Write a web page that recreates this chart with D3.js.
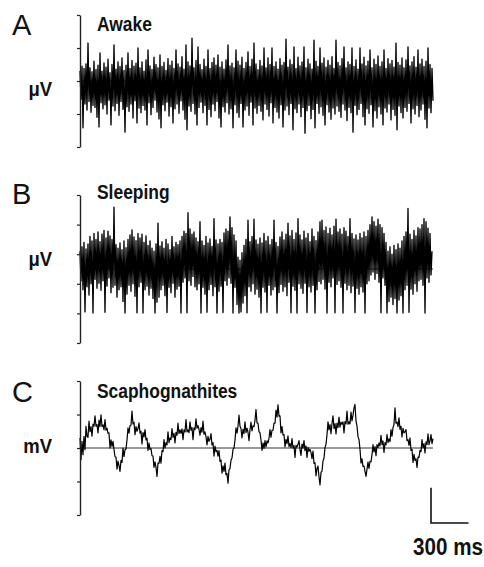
<!DOCTYPE html>
<html>
<head>
<meta charset="utf-8">
<script src="https://cdn.jsdelivr.net/npm/d3@7"></script>
<style>
  body { margin: 0; background: #fff; }
  svg { display: block; }
</style>
</head>
<body>
<div class="chart-container"></div>
<script>
// panel names, unit labels and the recorded traces (arbitrary units, zero = baseline)
const panelLetters = ["A", "B", "C"];
const panelTitles = ["Awake", "Sleeping", "Scaphognathites"];
const unitLabels = ["\u03bcV", "\u03bcV", "mV"];
const sampleMs = 8;
const scaleBarMs = 300;
const scaleBarAmp = 105;

const awake = [
  30,-55,45,-142,38,-70,52,-88,115,-62,40,-95,28,-74,60,-80,35,-110,48,-139,
  85,-66,30,-84,55,-72,42,-100,66,-58,25,-133,50,-76,109,-90,36,-68,58,-104,
  44,-62,70,-86,32,-155,48,-78,85,-92,38,-70,62,-112,45,-60,54,-127,100,-82,
  40,-96,58,-74,30,-88,64,-133,94,-66,46,-102,35,-80,72,-58,50,-94,40,-115,
  79,-142,44,-72,56,-90,32,-64,68,-106,48,-78,60,-127,38,-84,94,-70,52,-98,
  42,-60,74,-88,36,-116,109,-148,58,-76,46,-92,130,-68,40,-100,62,-133,103,-80,
  50,-64,34,-96,66,-74,44,-133,94,-86,38,-108,56,-70,70,-90,48,-62,79,-112,
  42,-139,58,-78,36,-94,64,-66,109,-100,46,-84,54,-142,40,-72,94,-96,60,-110,
  48,-68,72,-139,38,-88,56,-76,88,-104,44,-64,66,-133,115,-82,52,-98,34,-74,
  62,-92,46,-118,100,-70,40,-86,70,-106,50,-66,100,-127,44,-80,58,-94,36,-112,
  68,-72,48,-139,56,-88,127,-76,42,-102,64,-68,50,-148,103,-84,38,-96,72,-70,
  46,-108,58,-80,103,-158,40,-90,66,-74,52,-114,36,-86,124,-142,60,-68,44,-98,
  100,-78,54,-104,70,-133,42,-72,62,-94,48,-116,74,-82,38,-100,124,-76,56,-92,
  46,-110,68,-70,103,-88,40,-120,58,-80,50,-96,100,-155,44,-74,64,-102,36,-86,
  100,-68,52,-108,72,-133,46,-84,60,-98,94,-72,40,-139,66,-90,50,-112,76,-78,
  44,-100,58,-133,94,-82,38,-94,68,-70,52,-118,62,-86,42,-104,115,-148,56,-76,
  48,-96,70,-112,40,-80,64,-92,103,-68,46,-127,58,-84,74,-100,42,-74,94,-108,
  52,-88,66,-70,44,-116,60,-142,100,-82,50,-96,38,-60
];

const sleeping = [
  60,-40,75,-70,90,-145,68,-60,85,-88,110,-50,95,-149,120,-35,100,-65,125,-48,
  92,-72,118,-40,130,-146,105,-58,128,-30,112,-80,100,-62,209,-55,82,-95,70,-70,
  88,-60,65,-110,95,-149,72,-85,100,-55,115,-75,132,-50,108,-92,96,-148,120,-60,
  105,-45,118,-149,90,-70,112,-58,80,-88,95,-65,70,-100,60,-149,85,-112,155,-95,
  78,-70,92,-55,70,-90,100,-147,85,-62,65,-80,110,-48,75,-95,90,-68,82,-58,
  95,-149,110,-45,128,-30,120,-148,190,-40,135,-55,118,-25,125,-60,105,-70,92,-50,
  160,-149,95,-62,80,-85,110,-146,88,-70,102,-52,76,-90,170,-60,98,-149,85,-75,
  100,-58,90,-147,122,-40,135,-55,128,-30,176,-48,140,-149,115,-62,95,-120,40,-149,
  30,-145,55,-115,80,-90,100,-148,165,-60,92,-75,110,-50,168,-85,98,-68,84,-95,
  105,-149,88,-62,120,-78,95,-146,110,-55,82,-88,100,-70,165,-60,90,-149,76,-80,
  108,-52,125,-75,98,-60,118,-90,155,-45,112,-148,130,-58,100,-72,122,-149,170,-50,
  115,-65,98,-82,128,-48,105,-147,120,-60,92,-78,135,-55,110,-149,96,-70,125,-42,
  160,-50,165,-35,130,-68,142,-149,120,-45,138,-60,115,-30,145,-148,168,-52,125,-40,
  135,-62,118,-149,140,-48,128,-70,110,-55,170,-80,120,-58,102,-147,115,-65,98,-85,
  120,-60,105,-78,125,-149,110,-50,130,-40,150,-20,176,-10,160,-35,145,-15,168,-45,
  150,-148,140,-30,120,-55,90,-149,60,-110,75,-95,50,-120,80,-100,65,-149,85,-105,
  70,-90,95,-149,110,-70,125,-55,205,-146,118,-68,100,-85,130,-50,112,-75,140,-40,
  135,-35,150,-55,170,-149,160,-30,138,-45,120,-20,60
];

const scaphognathites = [
  30,-35,20,-20,35,-5,65,
  35,32,80,49,64,35,
  71,65,96,65,70,45,83,64,99,64,69,54,85,53,59,
  44,45,0,24,5,20,
  -5,-26,-27,-63,-39,-52,-70,
  -37,-43,0,-26,
  -5,-3,24,60,44,67,68,110,
  72,77,40,64,
  50,58,75,44,50,12,46,33,55,24,29,-7,15,-4,
  -2,-23,-24,-58,-41,-58,-85,-45,
  -46,-25,-45,-8,-11,25,0,
  16,9,48,16,30,25,58,32,44,15,47,38,74,43,54,
  44,57,25,54,48,85,48,54,46,78,53,61,25,60,55,87,59,67,56,38,61,47,80,
  41,48,34,9,35,20,26,43,9,16,-24,6,
  -11,-7,-24,-8,-40,-36,-75,-53,-70,-45,-80,-76,-105,
  -65,-61,-36,-30,
  -4,0,24,60,44,65,98,65,
  58,30,56,43,78,46,59,47,22,54,77,51,66,
  64,83,115,75,74,
  49,45,24,-7,15,-1,22,3,
  21,15,29,55,32,53,
  53,74,74,113,92,129,95,96,45,64,
  39,40,3,26,13,36,4,13,
  1,28,0,7,-28,8,3,11,22,-5,-22,12,0,22,-8,6,-28,2,-10,-4,
  -13,-32,-9,-46,-44,-83,-61,-54,
  -86,-110,-73,-69,-39,
  -30,1,11,40,78,54,70,43,74,96,
  58,73,42,74,61,92,62,77,71,78,45,79,72,110,71,78,72,107,81,98,
  120,130,80,66,
  34,25,-4,-45,-32,
  -55,-54,-70,-85,-63,-42,-61,-40,
  -41,-20,10,-12,4,-23,10,2,
  15,6,38,10,21,-13,16,9,40,16,27,19,55,35,
  61,70,120,74,77,64,
  90,56,65,33,59,45,48,55,
  22,25,8,30,-7,-4,-43,
  -19,-37,-32,-58,-27,-28,
  -7,-11,25,1,13,-15,18,10,42,10,22,40,13,28
];

const traces = [awake, sleeping, scaphognathites];
const yDomains = [[-200, 200], [-250, 250], [-200, 200]];
const yTicks = [[-200, -100, 0, 100, 200], [-250, -150, -50, 50, 150, 250], [-200, -100, 0, 100, 200]];

const width = 484;
const height = 567;

const svg = d3.select(".chart-container")
              .append("svg")
              .attr("width", width)
              .attr("height", height)
              .attr("viewBox", `0 0 ${width} ${height}`);

svg.append("rect")
   .attr("width", width)
   .attr("height", height)
   .attr("fill", "white");

const xLeft = 80;
const xRight = 433;

const xScale = d3.scaleLinear()
                 .domain([0, (awake.length - 1) * sampleMs])
                 .range([xLeft, xRight]);

// top and bottom of each panel's y axis
const panelRanges = [[147, 15], [343, 195], [515, 381]];
const titleBaselines = [31, 199, 398];
const letterBaselines = [35, 204, 402];
const unitBaselines = [96, 266, 453];

const labelFont = "'Liberation Sans', Arial, sans-serif";

// the original lettering is a condensed bold face, squeeze it horizontally
const addLabel = (g, txt, x, y, size, anchor, squeeze) => {
    g.append("text")
     .text(txt)
     .attr("transform", `translate(${x}, ${y}) scale(${squeeze}, 1)`)
     .attr("text-anchor", anchor)
     .attr("font-family", labelFont)
     .attr("font-weight", "bold")
     .attr("font-size", size)
     .attr("fill", "#111");
};

traces.forEach((trace, p) => {

    const yScale = d3.scaleLinear()
                     .domain(yDomains[p])
                     .range(panelRanges[p]);

    const panel = svg.append("g")
                     .attr("class", `panel panel-${panelLetters[p]}`);

    // zero line
    panel.append("line")
         .attr("x1", xScale(0))
         .attr("x2", xScale((awake.length - 1) * sampleMs))
         .attr("y1", yScale(0))
         .attr("y2", yScale(0))
         .attr("stroke", "#333")
         .attr("stroke-width", 1);

    const lineGenerator = d3.line()
                            .x((d, i) => xScale(i * sampleMs))
                            .y(d => yScale(d));

    panel.append("path")
         .attr("d", lineGenerator(trace))
         .attr("fill", "none")
         .attr("stroke", "#000")
         .attr("stroke-width", p === 2 ? 1.2 : 1.35)
         .attr("stroke-linejoin", "round");

    // left axis, no tick labels
    const yAxis = d3.axisLeft(yScale)
                    .tickValues(yTicks[p])
                    .tickSize(3)
                    .tickSizeOuter(0)
                    .tickFormat("");

    const axisG = panel.append("g")
                       .attr("transform", `translate(${xLeft}, 0)`)
                       .call(yAxis);

    axisG.select(".domain")
         .attr("stroke", "#222")
         .attr("stroke-width", 1.4);
    axisG.selectAll(".tick line")
         .attr("stroke", "#222")
         .attr("stroke-width", 1.2);

    panel.append("text")
         .text(panelLetters[p])
         .attr("x", 12)
         .attr("y", letterBaselines[p])
         .attr("font-family", labelFont)
         .attr("font-size", 29)
         .attr("fill", "#111");

    addLabel(panel, panelTitles[p], 97, titleBaselines[p], 21, "start", 0.83);
    addLabel(panel, unitLabels[p], 52, unitBaselines[p], 21, "end", 0.88);

    // scale bar under the last trace
    if (p === 2) {
        const barX = 431;
        const barY = 523;
        const barLen = xScale(scaleBarMs) - xScale(0);
        const barH = yScale(0) - yScale(scaleBarAmp);

        panel.append("path")
             .attr("d", `M${barX},${barY - barH}V${barY}H${barX + barLen}`)
             .attr("fill", "none")
             .attr("stroke", "#111")
             .attr("stroke-width", 1.6);

        addLabel(panel, `${scaleBarMs} ms`, 413, 555, 24, "start", 0.86);
    }
});
</script>
</body>
</html>
